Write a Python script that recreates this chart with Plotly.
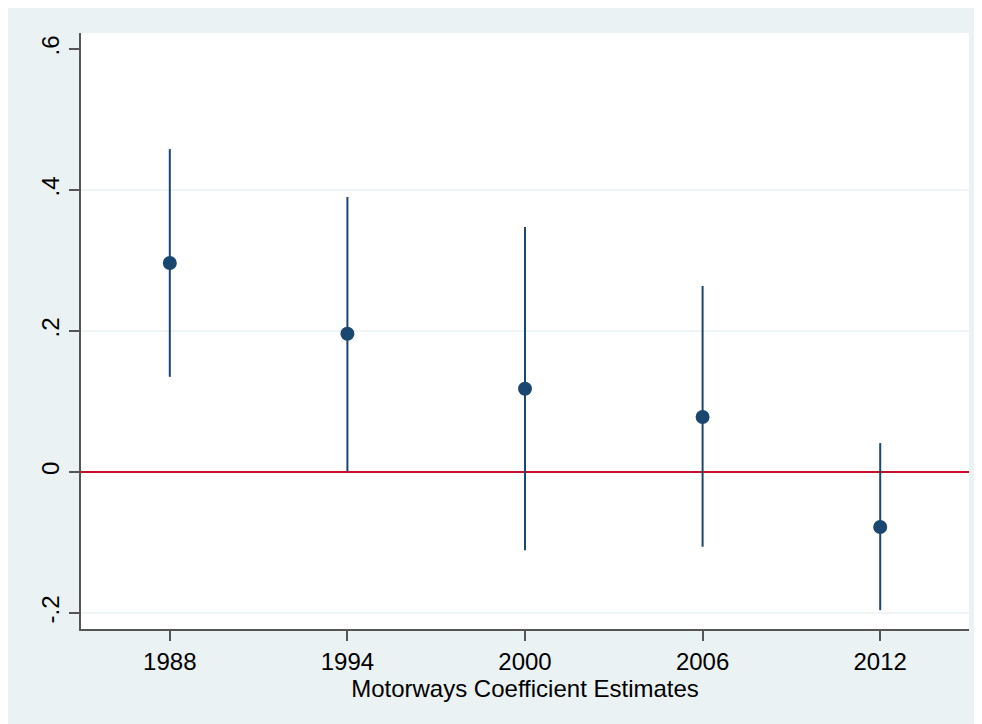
import plotly.graph_objects as go

years = [1988, 1994, 2000, 2006, 2012]
estimate = [0.2965, 0.196, 0.118, 0.078, -0.078]
ci_high = [0.458, 0.390, 0.3475, 0.264, 0.041]
ci_low = [0.135, 0.001, -0.111, -0.106, -0.196]

y_ticks = [-0.2, 0, 0.2, 0.4, 0.6]
y_tick_text = ["-.2", "0", ".2", ".4", ".6"]
grid_vals = [-0.2, 0.2, 0.4]

navy = "#1a476f"
panel = "#eaf2f3"

W, H = 982, 724

fig = go.Figure()
fig.add_trace(go.Scatter(
    x=years, y=estimate, mode="markers",
    marker=dict(color=navy, size=14),
    error_y=dict(type="data", symmetric=False,
                 array=[h - e for h, e in zip(ci_high, estimate)],
                 arrayminus=[e - l for e, l in zip(estimate, ci_low)],
                 color=navy, thickness=2, width=0),
    showlegend=False,
))

shapes = []
for g in grid_vals:
    shapes.append(dict(type="line", xref="paper", yref="y", x0=0, x1=1, y0=g, y1=g,
                       line=dict(color=panel, width=1.5), layer="below"))

fig.update_layout(
    width=W, height=H,
    margin=dict(l=73, r=21, t=25, b=103),
    paper_bgcolor=panel, plot_bgcolor="white",
    font=dict(family="Liberation Sans, Arial, sans-serif", size=24, color="black"),
    shapes=shapes,
    xaxis=dict(range=[1985, 2015], tickvals=years, ticks="outside", ticklen=10,
               tickwidth=1.5, tickcolor="#555555", showgrid=False, zeroline=False,
               showline=True, linecolor="#555555", linewidth=2,
               title=dict(text="Motorways Coefficient Estimates", standoff=0,
                          font=dict(size=24))),
    yaxis=dict(range=[-0.2227, 0.6227], tickvals=y_ticks, ticktext=y_tick_text,
               tickangle=-90, ticks="outside", ticklen=10, tickwidth=1.5,
               tickcolor="#555555", showgrid=False,
               zeroline=True, zerolinecolor="#c8102e", zerolinewidth=2,
               showline=True, linecolor="#555555", linewidth=2),
)

fig.write_html("out.html", post_script="document.documentElement.style.overflow='hidden';document.body.style.overflow='hidden';")
